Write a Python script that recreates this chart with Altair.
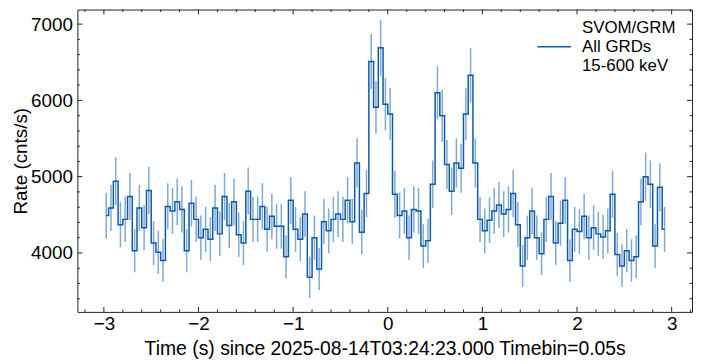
import altair as alt
import pandas as pd

# ---- data (rate in cnts/s, 0.05 s bins) ----
bin_width = 0.05
t_start = -2.975          # centre of first bin
rates = [
    4490, 4590, 4940, 4370, 4440, 4740, 4030, 4590, 4330, 4820,
    4130, 4010, 3900, 4610, 4550, 4670, 4570, 4030, 4650, 4440,
    4200, 4310, 4180, 4590, 4250, 4740, 4360, 4670, 4240, 4130,
    4810, 4440, 4440, 4610, 4310, 4480, 4350, 4350, 3950, 4690,
    4310, 4180, 4510, 3680, 4200, 3790, 4410, 4290, 4440, 4510,
    4440, 4690, 4410, 5180, 4270, 4780, 6510, 5910, 6690, 5950,
    5820, 4770, 4490, 4550, 4200, 4570, 4550, 4090, 4160, 4900,
    6100, 5800, 5160, 4810, 5180, 5110, 5820, 6330, 5180, 4440,
    4290, 4430, 4550, 4630, 4510, 4570, 4780, 4370, 3830, 4200,
    4550, 4200, 3990, 4440, 4740, 4130, 4390, 4690, 3900, 4310,
    4280, 4480, 4200, 4330, 4250, 4210, 4290, 4770, 3980, 3830,
    4030, 3900, 3950, 4670, 5000, 4900, 4090, 4860, 4310,
]
errors = [
    300, 303, 314, 296, 298, 308, 284, 303, 294, 310,
    287, 283, 279, 304, 302, 306, 302, 284, 305, 298,
    290, 294, 289, 303, 292, 308, 295, 306, 291, 287,
    310, 298, 298, 304, 294, 299, 295, 295, 281, 306,
    294, 289, 300, 271, 290, 275, 297, 293, 298, 300,
    298, 306, 297, 322, 292, 309, 361, 344, 366, 345,
    341, 309, 300, 302, 290, 302, 302, 286, 288, 313,
    349, 341, 321, 310, 322, 320, 341, 356, 322, 298,
    293, 298, 302, 304, 300, 302, 309, 296, 277, 290,
    302, 290, 282, 298, 308, 287, 296, 306, 279, 294,
    293, 299, 290, 294, 292, 290, 293, 309, 282, 277,
    284, 279, 281, 306, 316, 313, 286, 312, 294,
]
series_label = "SVOM/GRM|All GRDs|15-600 keV"

x_major = [-3, -2, -1, 0, 1, 2, 3]
x_minor = [-3.2, -2.8, -2.6, -2.4, -2.2, -1.8, -1.6, -1.4, -1.2, -0.8, -0.6,
           -0.4, -0.2, 0.2, 0.4, 0.6, 0.8, 1.2, 1.4, 1.6, 1.8, 2.2, 2.4,
           2.6, 2.8, 3.2]
y_major = [4000, 5000, 6000, 7000]
y_minor = [3400, 3600, 3800, 4200, 4400, 4600, 4800, 5200, 5400, 5600, 5800,
           6200, 6400, 6600, 6800]

x_domain = [-3.28, 3.215]
y_domain = [3227, 7191]

LINE = "#0c5aa6"
ERR = "#7ea8d6"
FONT = "Liberation Sans"
W, H = 620, 305

times = [round(t_start + i * bin_width, 3) for i in range(len(rates))]
df = pd.DataFrame({"t": times, "rate": rates, "err": errors})
df["lo"] = df["rate"] - df["err"]
df["hi"] = df["rate"] + df["err"]
df["series"] = series_label

xs = alt.Scale(domain=x_domain, nice=False, zero=False)
ys = alt.Scale(domain=y_domain, nice=False, zero=False)

xaxis = alt.Axis(values=x_major, format="d",
                 title="Time (s) since 2025-08-14T03:24:23.000 Timebin=0.05s",
                 labelPadding=3, titlePadding=6, titleFontSize=19.5)
yaxis = alt.Axis(values=y_major, format="d", title="Rate (cnts/s)",
                 labelPadding=5, titlePadding=0)

base = alt.Chart(df)

errbars = base.mark_rule(color=ERR, strokeWidth=1.5).encode(
    x=alt.X("t:Q", scale=xs, axis=xaxis),
    y=alt.Y("lo:Q", scale=ys, axis=yaxis),
    y2="hi:Q",
)

line = base.mark_line(interpolate="step", strokeWidth=1.5).encode(
    x=alt.X("t:Q", scale=xs),
    y=alt.Y("rate:Q", scale=ys),
    color=alt.Color("series:N", scale=alt.Scale(range=[LINE]),
                    legend=alt.Legend(title=None, orient="none", legendX=463, legendY=1,
                                      symbolType="M-1,1.1H1", symbolSize=1150,
                                      symbolStrokeWidth=1.5, symbolFillColor="transparent",
                                      labelFontSize=17,
                                      labelFont=FONT, labelColor="black",
                                      labelOffset=10, labelLimit=300, padding=0,
                                      labelExpr="split(datum.label, '|')")),
)

def xticks(vals, length):
    d = pd.DataFrame({"v": vals})
    bot = alt.Chart(d).mark_rule(color="#222", strokeWidth=1).encode(
        x=alt.X("v:Q", scale=xs), y=alt.value(H), y2=alt.value(H - length))
    top = alt.Chart(d).mark_rule(color="#222", strokeWidth=1).encode(
        x=alt.X("v:Q", scale=xs), y=alt.value(0), y2=alt.value(length))
    return [bot, top]

def yticks(vals, length):
    d = pd.DataFrame({"v": vals})
    left = alt.Chart(d).mark_rule(color="#222", strokeWidth=1).encode(
        y=alt.Y("v:Q", scale=ys), x=alt.value(0), x2=alt.value(length))
    right = alt.Chart(d).mark_rule(color="#222", strokeWidth=1).encode(
        y=alt.Y("v:Q", scale=ys), x=alt.value(W), x2=alt.value(W - length))
    return [left, right]

layers = [errbars, line] + xticks(x_major, 5) + xticks(x_minor, 2.5) \
    + yticks(y_major, 5) + yticks(y_minor, 2.5)

chart = alt.layer(*layers).properties(
    width=W, height=H,
    autosize=alt.AutoSizeParams(type="none"),
    padding={"left": 70, "top": 0, "right": 2, "bottom": 51},
    background="white",
).configure_view(
    stroke="#222", strokeWidth=1
).configure_axis(
    domain=False, ticks=False, grid=False,
    labelFont=FONT, labelFontSize=19, labelColor="black",
    titleFont=FONT, titleFontSize=19, titleFontWeight="normal", titleColor="black",
)

chart.save("out.html", embed_options={"renderer": "svg", "actions": False})
